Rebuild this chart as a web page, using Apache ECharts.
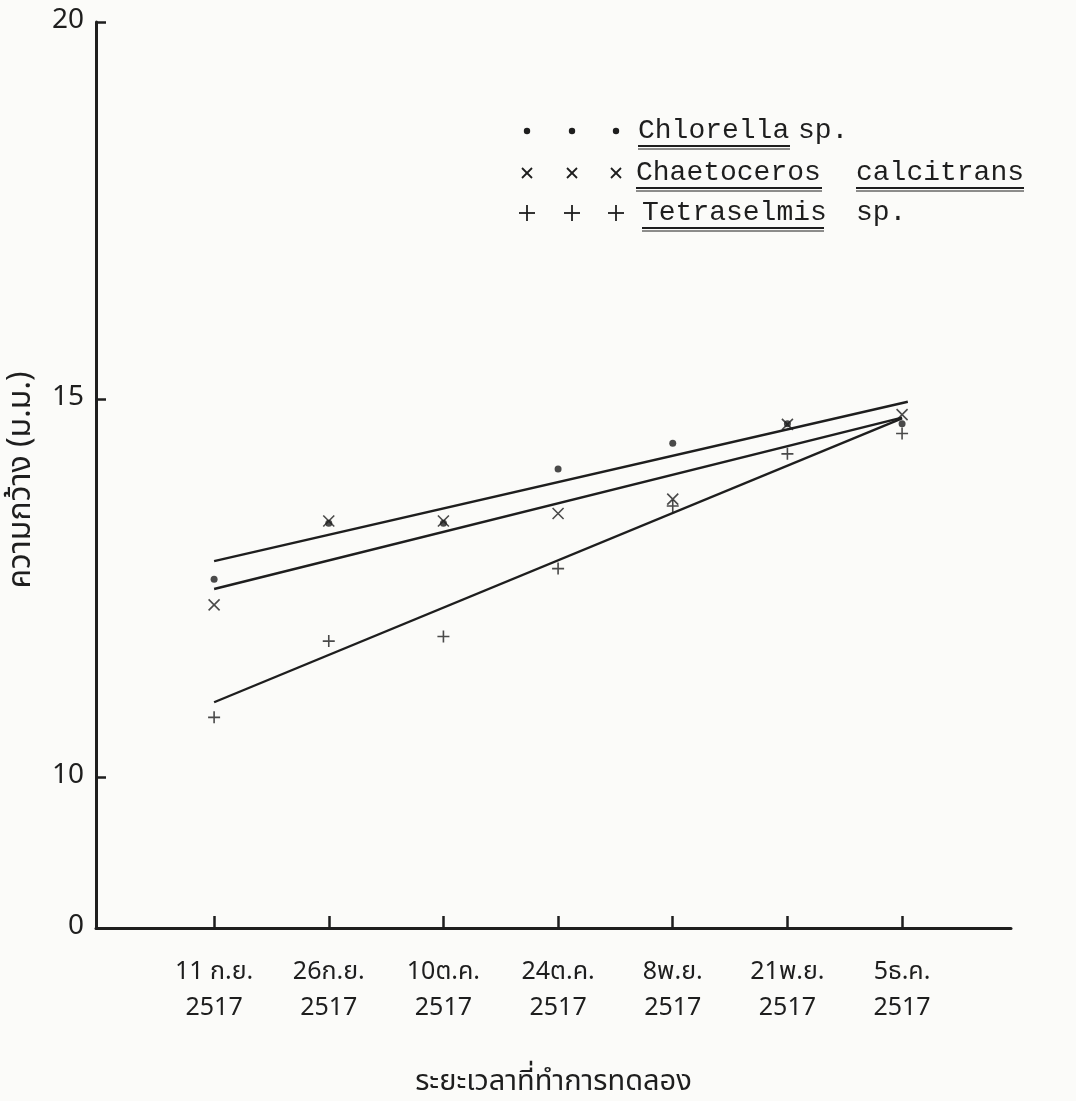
<!DOCTYPE html>
<html>
<head>
<meta charset="utf-8">
<script src="https://cdn.jsdelivr.net/npm/echarts@6/dist/echarts.min.js"></script>
<style>
  html, body { margin: 0; padding: 0; background: #fbfbf9; }
  #chart { width: 1076px; height: 1101px; }
</style>
</head>
<body>
<div id="chart"></div>
<script>
// Sampling dates (Thai Buddhist calendar), one per x position 0..6
const dates = ['11 ก.ย.', '26ก.ย.', '10ต.ค.', '24ต.ค.', '8พ.ย.', '21พ.ย.', '5ธ.ค.'];
const year = '2517';

// Measured width (mm) of each culture on each date
const chlorella   = [12.62, 13.36, 13.36, 14.08, 14.42, 14.68, 14.68];
const chaetoceros = [12.28, 13.39, 13.39, 13.49, 13.68, 14.67, 14.80];
const tetraselmis = [10.79, 11.80, 11.86, 12.76, 13.59, 14.28, 14.55];

// Fitted trend lines: [x, width] at each end
const chlorellaFit   = [[0, 12.86], [6.05, 14.97]];
const chaetocerosFit = [[0, 12.49], [6.0, 14.76]];
const tetraselmisFit = [[0, 10.99], [6.0, 14.75]];

// Y axis is broken below 10: the axis bottom (drawn at 8) stands for 0
const yAxisBase = 8;
const yTickValues = [10, 15, 20];
const yLabelValues = [8, 10, 15, 20];

const ink = '#1e1e1e';
const thaiFont = '"Noto Sans Thai", "Noto Sans", "DejaVu Sans", sans-serif';
const typeFont = '"Liberation Mono", "DejaVu Sans Mono", monospace';

const chart = echarts.init(document.getElementById('chart'));

function pts(arr) { return arr.map((v, i) => [i, v]); }

const crossPath = 'path://M0,0L10,10M10,0L0,10';
const plusPath  = 'path://M5,0L5,10M0,5L10,5';

function fitLine(data) {
  return {
    type: 'line', data: data, showSymbol: false, silent: true,
    lineStyle: { color: ink, width: 2.4 }, z: 2
  };
}

// Legend drawn as a hand-set key with underlined species names
function legendRow(y, marks, parts) {
  const els = [];
  [527, 572, 616].forEach(x => {
    if (marks === 'dot') {
      els.push({ type: 'circle', shape: { cx: x, cy: y, r: 3.2 }, style: { fill: ink } });
    } else if (marks === 'cross') {
      els.push({ type: 'polyline', shape: { points: [[x - 5, y - 5], [x + 5, y + 5]] }, style: { stroke: ink, lineWidth: 1.8 } });
      els.push({ type: 'polyline', shape: { points: [[x + 5, y - 5], [x - 5, y + 5]] }, style: { stroke: ink, lineWidth: 1.8 } });
    } else {
      els.push({ type: 'polyline', shape: { points: [[x - 8, y], [x + 8, y]] }, style: { stroke: ink, lineWidth: 1.8 } });
      els.push({ type: 'polyline', shape: { points: [[x, y - 8], [x, y + 8]] }, style: { stroke: ink, lineWidth: 1.8 } });
    }
  });
  parts.forEach(p => {
    els.push({
      type: 'text', x: p.x, y: y, style: {
        text: p.text, font: '28px ' + typeFont, fill: ink,
        textVerticalAlign: 'middle', verticalAlign: 'middle'
      }
    });
    if (p.u) {
      els.push({ type: 'polyline', shape: { points: [[p.x, y + 15], [p.x + p.u, y + 15]] }, style: { stroke: ink, lineWidth: 2 } });
      els.push({ type: 'polyline', shape: { points: [[p.x, y + 18], [p.x + p.u, y + 18]] }, style: { stroke: ink, lineWidth: 1 } });
    }
  });
  return els;
}

const legendEls = [].concat(
  legendRow(131, 'dot', [{ x: 638, text: 'Chlorella', u: 152 }, { x: 798, text: 'sp.' }]),
  legendRow(173, 'cross', [{ x: 636, text: 'Chaetoceros', u: 186 }, { x: 856, text: 'calcitrans', u: 168 }]),
  legendRow(213, 'plus', [{ x: 642, text: 'Tetraselmis', u: 182 }, { x: 856, text: 'sp.' }])
);

const option = {
  backgroundColor: '#fbfbf9',
  animation: false,
  grid: { left: 96, top: 22, width: 915, height: 906, containLabel: false, outerBoundsMode: 'none' },
  xAxis: {
    type: 'value', min: -1.03, max: 6.95,
    splitLine: { show: false },
    axisLine: { show: true, onZero: false, lineStyle: { color: ink, width: 3 } },
    axisTick: { show: true, inside: true, length: 12, customValues: [0, 1, 2, 3, 4, 5, 6], lineStyle: { color: ink, width: 2.5 } },
    axisLabel: {
      customValues: [0, 1, 2, 3, 4, 5, 6],
      formatter: v => dates[Math.round(v)] + '\n' + year,
      margin: 28, fontSize: 25, lineHeight: 36, color: ink, fontFamily: thaiFont
    },
    name: 'ระยะเวลาที่ทำการทดลอง',
    nameLocation: 'middle', nameGap: 142,
    nameTextStyle: { fontSize: 29, color: ink, fontFamily: thaiFont }
  },
  yAxis: {
    type: 'value', min: yAxisBase, max: 20,
    splitLine: { show: false },
    axisLine: { show: true, onZero: false, lineStyle: { color: ink, width: 3 } },
    axisTick: { show: true, inside: true, length: 10, customValues: yTickValues, lineStyle: { color: ink, width: 2.5 } },
    axisLabel: {
      customValues: yLabelValues,
      formatter: v => (v === yAxisBase ? '0' : String(v)),
      margin: 12, fontSize: 28, color: ink, fontFamily: thaiFont
    },
    name: 'ความกว้าง (ม.ม.)',
    nameLocation: 'middle', nameGap: 56, nameRotate: 90,
    nameTextStyle: { fontSize: 32, color: ink, fontFamily: thaiFont, padding: [0, 10, 0, 0] }
  },
  series: [
    fitLine(chlorellaFit),
    fitLine(chaetocerosFit),
    fitLine(tetraselmisFit),
    {
      type: 'scatter', name: 'Chlorella sp.', data: pts(chlorella),
      symbol: 'circle', symbolSize: 7, itemStyle: { color: ink }, z: 3
    },
    {
      type: 'scatter', name: 'Chaetoceros calcitrans', data: pts(chaetoceros),
      symbol: crossPath, symbolSize: 11,
      itemStyle: { color: ink, borderColor: ink, borderWidth: 1.6 }, z: 3
    },
    {
      type: 'scatter', name: 'Tetraselmis sp.', data: pts(tetraselmis),
      symbol: plusPath, symbolSize: 12,
      itemStyle: { color: ink, borderColor: ink, borderWidth: 1.6 }, z: 3
    }
  ],
  graphic: legendEls
};

chart.setOption(option);
</script>
</body>
</html>
